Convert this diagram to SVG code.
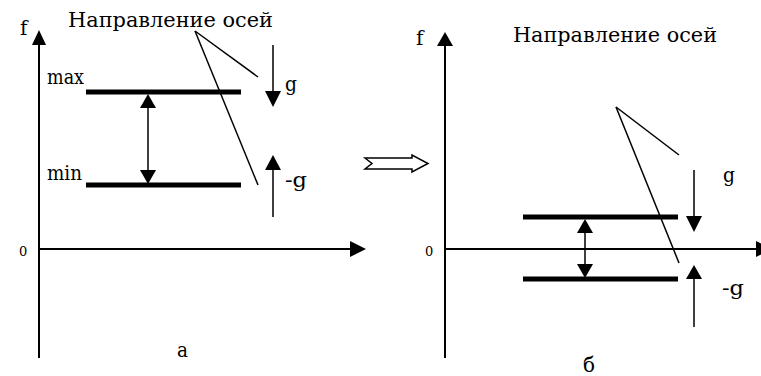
<svg xmlns="http://www.w3.org/2000/svg" width="761" height="376" viewBox="0 0 761 376">
<style>
.ax{stroke:#000;stroke-width:2;fill:none}
.ln{stroke:#000;stroke-width:1.5;fill:none}
.bar{stroke:#000;stroke-width:5;fill:none}
.hd{fill:#000;stroke:none}
.t{font-family:'DejaVu Serif','Liberation Serif',serif;font-size:20px;fill:#000}
.z{font-family:'DejaVu Serif','Liberation Serif',serif;font-size:13px;fill:#000}
</style>
<rect width="761" height="376" fill="#fff"/>
<g id="panel-a">
  <g id="a-axes">
    <line class="ax" x1="39" y1="358" x2="39" y2="44"/>
    <polygon class="hd" points="39,30 32,45 46,45"/>
    <line class="ax" x1="38" y1="249" x2="351" y2="249"/>
    <polygon class="hd" points="366,249 350,241 350,257"/>
    <text class="t" x="20" y="35">f</text>
    <text class="z" x="19" y="256">0</text>
    <text class="t" x="177" y="357" textLength="11" lengthAdjust="spacingAndGlyphs">а</text>
  </g>
  <g id="a-max">
    <line class="bar" x1="86" y1="92" x2="241" y2="92"/>
    <text class="t" x="47" y="84" textLength="37" lengthAdjust="spacingAndGlyphs">max</text>
  </g>
  <g id="a-min">
    <line class="bar" x1="86" y1="185" x2="241" y2="185"/>
    <text class="t" x="47" y="180" textLength="35" lengthAdjust="spacingAndGlyphs">min</text>
  </g>
  <g id="a-title">
    <text class="t" x="68" y="27" textLength="205" lengthAdjust="spacingAndGlyphs">Направление осей</text>
  </g>
  <g id="a-g">
    <line class="ln" x1="273" y1="45" x2="273" y2="92"/>
    <polygon class="hd" points="273,107 265,91 281,91"/>
    <text class="t" x="285" y="91" textLength="12" lengthAdjust="spacingAndGlyphs">g</text>
  </g>
  <g id="a-mg">
    <line class="ln" x1="273" y1="217" x2="273" y2="169"/>
    <polygon class="hd" points="273,155 265,170 281,170"/>
    <text class="t" x="285" y="187" textLength="22" lengthAdjust="spacingAndGlyphs">-g</text>
  </g>
</g>
<g id="transition">
  <polygon points="365,158 412,158 412,155 428,163.5 412,172 412,169 365,169 372,163.5" fill="#fff" stroke="#000" stroke-width="1.5" stroke-linejoin="miter"/>
</g>
<g id="panel-b">
  <g id="b-axes">
    <line class="ax" x1="445" y1="358" x2="445" y2="45"/>
    <polygon class="hd" points="445,32 437,46 453,46"/>
    <line class="ax" x1="444" y1="249" x2="757" y2="249"/>
    <polygon class="hd" points="772,249 756,241 756,257"/>
    <text class="t" x="416" y="45">f</text>
    <text class="z" x="425" y="256">0</text>
    <text class="t" x="583" y="372" textLength="12" lengthAdjust="spacingAndGlyphs">б</text>
  </g>
  <g id="b-upper">
    <line class="bar" x1="523" y1="217" x2="678" y2="217"/>
  </g>
  <g id="b-lower">
    <line class="bar" x1="523" y1="279" x2="678" y2="279"/>
  </g>
  <g id="b-title">
    <text class="t" x="513" y="42" textLength="204" lengthAdjust="spacingAndGlyphs">Направление осей</text>
  </g>
  <g id="b-g">
    <line class="ln" x1="694" y1="170" x2="694" y2="217"/>
    <polygon class="hd" points="694,232 686,216 702,216"/>
    <text class="t" x="723" y="182" textLength="12" lengthAdjust="spacingAndGlyphs">g</text>
  </g>
  <g id="b-mg">
    <line class="ln" x1="694" y1="327" x2="694" y2="278"/>
    <polygon class="hd" points="694,265 686,279 702,279"/>
    <text class="t" x="722" y="295" textLength="22" lengthAdjust="spacingAndGlyphs">-g</text>
  </g>
</g>
<g id="connectors">
  <line class="ln" x1="148" y1="107" x2="148" y2="171"/>
  <polygon class="hd" points="148,94 140,108 156,108"/>
  <polygon class="hd" points="148,184 140,170 156,170"/>
  <line class="ln" x1="195" y1="31" x2="258" y2="77"/>
  <line class="ln" x1="195" y1="31" x2="258" y2="185"/>
  <line class="ln" x1="585" y1="232" x2="585" y2="265"/>
  <polygon class="hd" points="585,219 577,233 593,233"/>
  <polygon class="hd" points="585,278 577,264 593,264"/>
  <line class="ln" x1="616" y1="107" x2="679" y2="155"/>
  <line class="ln" x1="616" y1="107" x2="679" y2="263"/>
</g>
</svg>
